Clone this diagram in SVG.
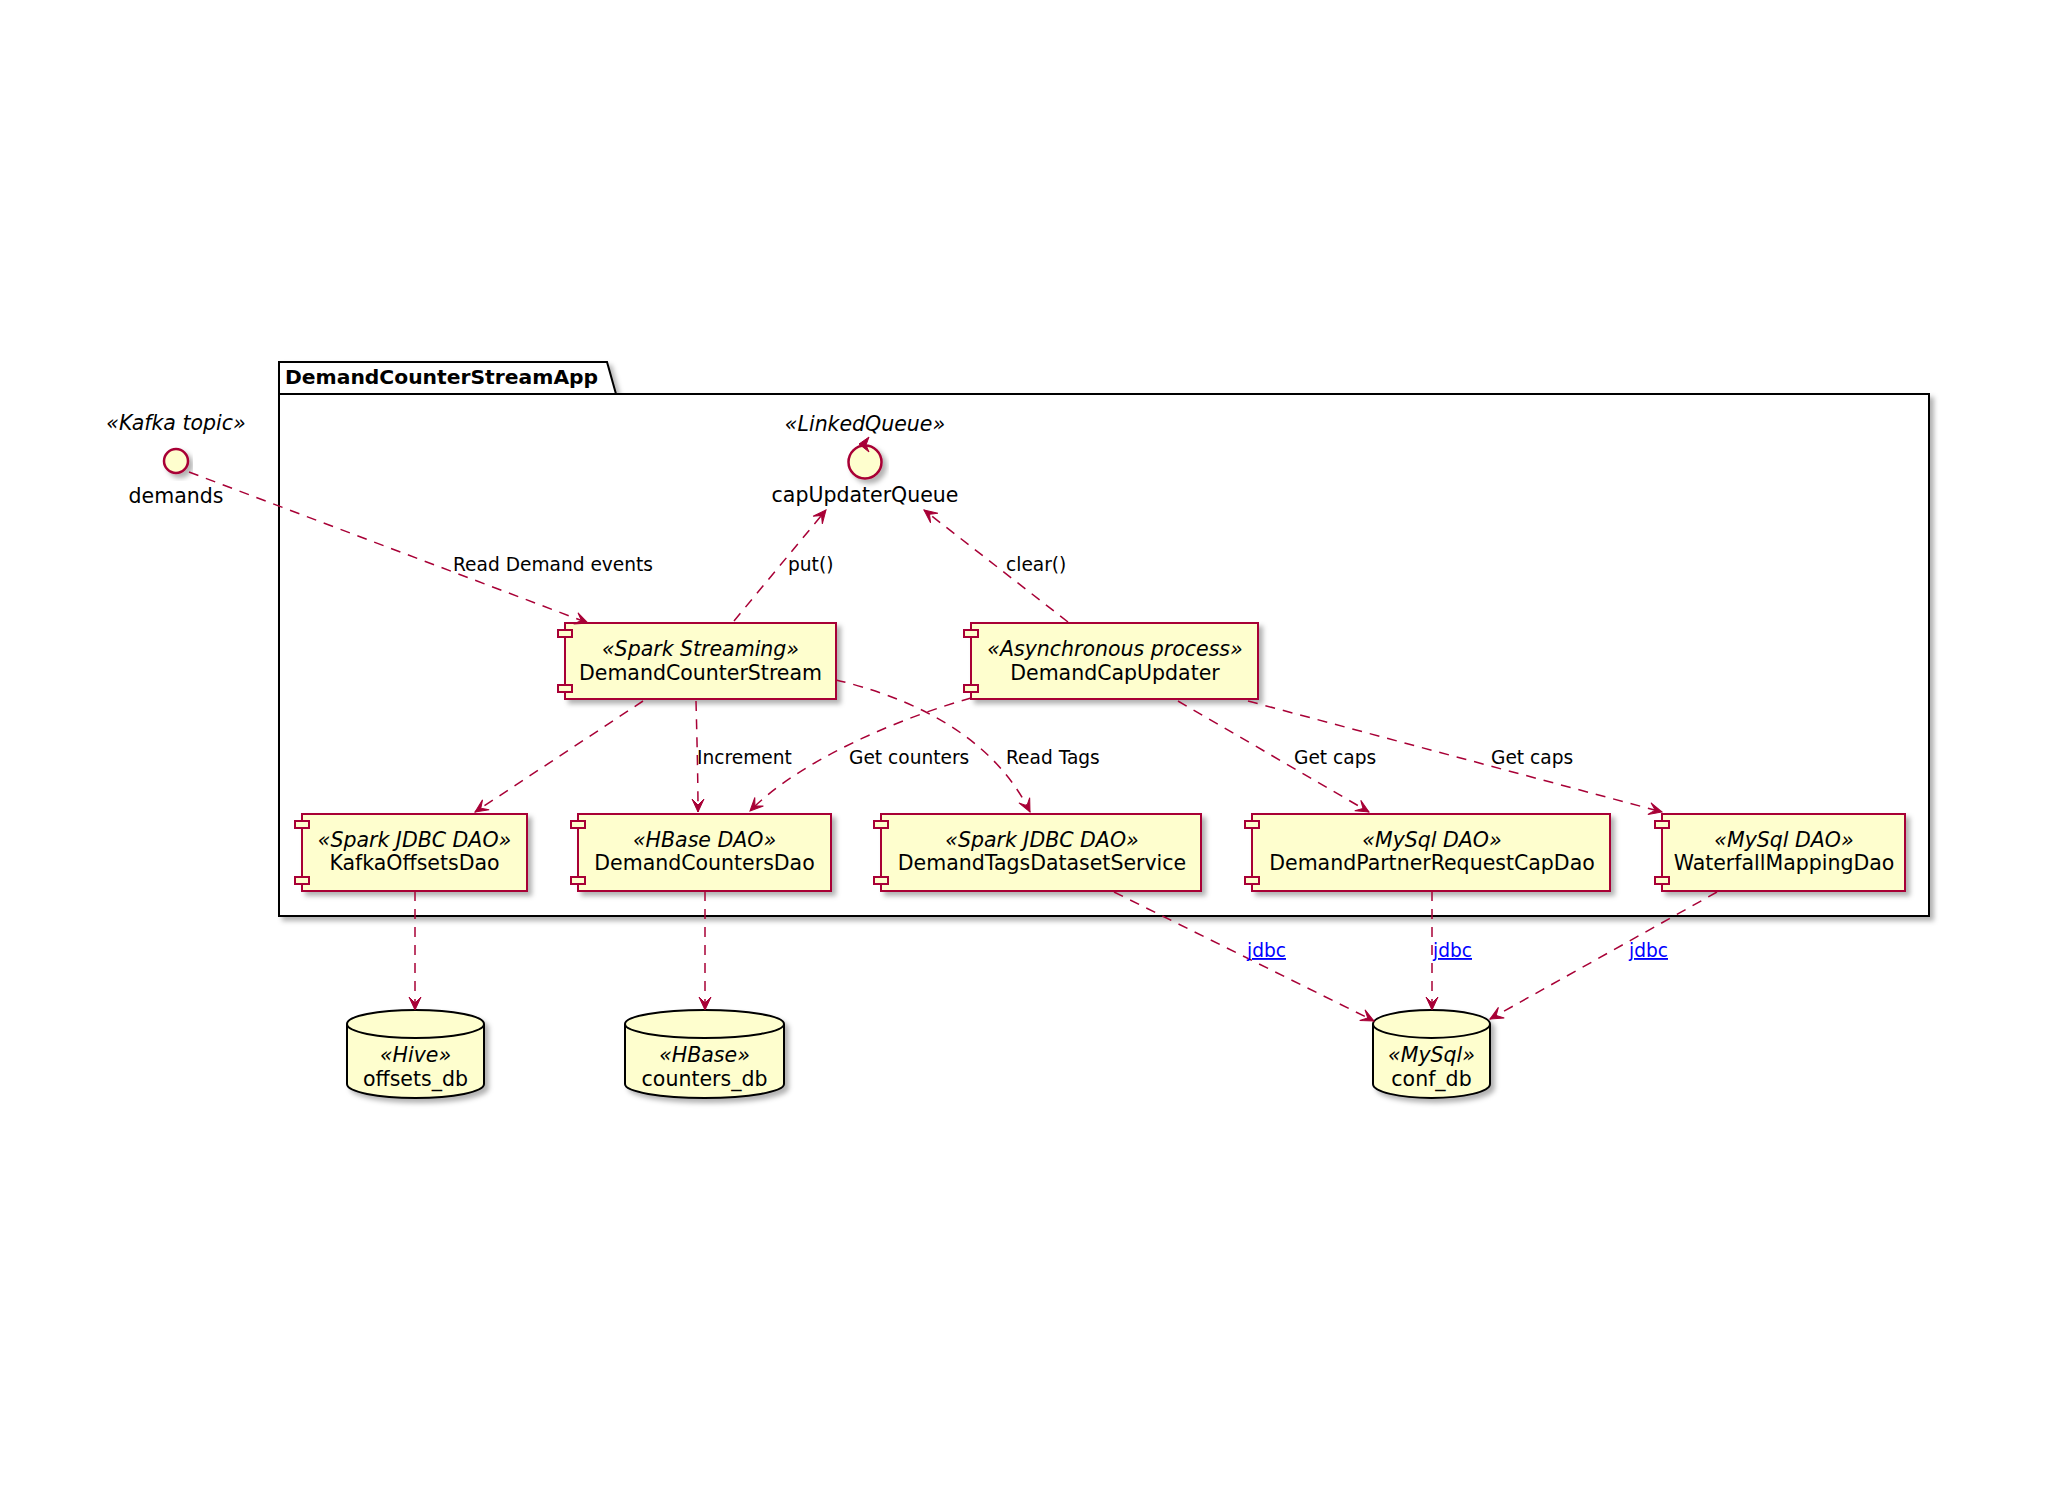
<svg xmlns="http://www.w3.org/2000/svg" width="2048" height="1493" viewBox="0 0 2048 1493">
<defs>
<filter id="sh" x="-10%" y="-10%" width="130%" height="140%">
<feDropShadow dx="4" dy="4" stdDeviation="2.5" flood-color="#000" flood-opacity="0.3"/>
</filter>
<marker id="ah" markerUnits="userSpaceOnUse" viewBox="-15 -8 17 16" markerWidth="17" markerHeight="16" refX="0" refY="0" orient="auto">
<path d="M0,0 L-13,-6 L-7,0 L-13,6 Z" fill="#A80036" stroke="#A80036" stroke-width="1"/>
</marker>
<style>
text{font-family:"DejaVu Sans",Verdana,sans-serif;fill:#000}
.st{font-size:20.5px;font-style:italic;text-anchor:middle}
.nm{font-size:20.5px;text-anchor:middle}
.lb{font-size:18.6px}
.lk{font-size:18.6px;fill:#0000FF;text-decoration:underline}
.ti{font-size:20.3px;font-weight:bold}
.box{fill:#FEFECE;stroke:#A80036;stroke-width:2}
.port{fill:#FEFECE;stroke:#A80036;stroke-width:2}
.db{fill:#FEFECE;stroke:#000;stroke-width:2}
.ed{fill:none;stroke:#A80036;stroke-width:1.5;stroke-dasharray:10,8;marker-end:url(#ah)}
</style>
</defs>
<rect x="0" y="0" width="2048" height="1493" fill="#FFFFFF"/>

<g id="DemandCounterStreamApp">
<path d="M279,362 L607,362 L616,394 L1929,394 L1929,916 L279,916 Z" fill="#FFFFFF" stroke="#000" stroke-width="2" filter="url(#sh)"/>
<path d="M279,394 L616,394" fill="none" stroke="#000" stroke-width="2"/>
<text class="ti" x="285" y="384">DemandCounterStreamApp</text>
</g>

<g id="demands">
<text class="st" x="176" y="430">«Kafka topic»</text>
<circle cx="176" cy="461" r="12" fill="#FEFECE" stroke="#A80036" stroke-width="2.5" filter="url(#sh)"/>
<text class="nm" x="176" y="503">demands</text>
</g>

<g id="capUpdaterQueue">
<text class="st" x="865" y="431">«LinkedQueue»</text>
<circle cx="865" cy="462" r="16.5" fill="#FEFECE" stroke="#A80036" stroke-width="2.5" filter="url(#sh)"/>
<polygon points="859,444 869,437 866,445 869,452" fill="#A80036" stroke="#A80036" stroke-width="1"/>
<text class="nm" x="865" y="502">capUpdaterQueue</text>
</g>

<g id="DemandCounterStream">
<rect class="box" x="565" y="623" width="271" height="76" filter="url(#sh)"/>
<rect class="port" x="558" y="630" width="14" height="7"/>
<rect class="port" x="558" y="685" width="14" height="7"/>
<text class="st" x="700.5" y="656">«Spark Streaming»</text>
<text class="nm" x="700.5" y="680">DemandCounterStream</text>
</g>

<g id="DemandCapUpdater">
<rect class="box" x="971" y="623" width="287" height="76" filter="url(#sh)"/>
<rect class="port" x="964" y="630" width="14" height="7"/>
<rect class="port" x="964" y="685" width="14" height="7"/>
<text class="st" x="1115" y="656">«Asynchronous process»</text>
<text class="nm" x="1115" y="680">DemandCapUpdater</text>
</g>

<g id="KafkaOffsetsDao">
<rect class="box" x="302" y="814" width="225" height="77" filter="url(#sh)"/>
<rect class="port" x="295" y="821" width="14" height="7"/>
<rect class="port" x="295" y="877" width="14" height="7"/>
<text class="st" x="414.5" y="847">«Spark JDBC DAO»</text>
<text class="nm" x="414.5" y="870">KafkaOffsetsDao</text>
</g>

<g id="DemandCountersDao">
<rect class="box" x="578" y="814" width="253" height="77" filter="url(#sh)"/>
<rect class="port" x="571" y="821" width="14" height="7"/>
<rect class="port" x="571" y="877" width="14" height="7"/>
<text class="st" x="704.5" y="847">«HBase DAO»</text>
<text class="nm" x="704.5" y="870">DemandCountersDao</text>
</g>

<g id="DemandTagsDatasetService">
<rect class="box" x="881" y="814" width="320" height="77" filter="url(#sh)"/>
<rect class="port" x="874" y="821" width="14" height="7"/>
<rect class="port" x="874" y="877" width="14" height="7"/>
<text class="st" x="1042" y="847">«Spark JDBC DAO»</text>
<text class="nm" x="1042" y="870">DemandTagsDatasetService</text>
</g>

<g id="DemandPartnerRequestCapDao">
<rect class="box" x="1252" y="814" width="358" height="77" filter="url(#sh)"/>
<rect class="port" x="1245" y="821" width="14" height="7"/>
<rect class="port" x="1245" y="877" width="14" height="7"/>
<text class="st" x="1432" y="847">«MySql DAO»</text>
<text class="nm" x="1432" y="870">DemandPartnerRequestCapDao</text>
</g>

<g id="WaterfallMappingDao">
<rect class="box" x="1662" y="814" width="243" height="77" filter="url(#sh)"/>
<rect class="port" x="1655" y="821" width="14" height="7"/>
<rect class="port" x="1655" y="877" width="14" height="7"/>
<text class="st" x="1784" y="847">«MySql DAO»</text>
<text class="nm" x="1784" y="870">WaterfallMappingDao</text>
</g>

<g id="offsets_db">
<path class="db" d="M347,1024 A68.5,14 0 0 1 484,1024 L484,1084 A68.5,14 0 0 1 347,1084 Z" filter="url(#sh)"/>
<path d="M347,1024 A68.5,14 0 0 0 484,1024" fill="none" stroke="#000" stroke-width="2"/>
<text class="st" x="415.5" y="1062">«Hive»</text>
<text class="nm" x="415.5" y="1086">offsets_db</text>
</g>

<g id="counters_db">
<path class="db" d="M625,1024 A79.5,14 0 0 1 784,1024 L784,1084 A79.5,14 0 0 1 625,1084 Z" filter="url(#sh)"/>
<path d="M625,1024 A79.5,14 0 0 0 784,1024" fill="none" stroke="#000" stroke-width="2"/>
<text class="st" x="704.5" y="1062">«HBase»</text>
<text class="nm" x="704.5" y="1086">counters_db</text>
</g>

<g id="conf_db">
<path class="db" d="M1373,1024 A58.5,14 0 0 1 1490,1024 L1490,1084 A58.5,14 0 0 1 1373,1084 Z" filter="url(#sh)"/>
<path d="M1373,1024 A58.5,14 0 0 0 1490,1024" fill="none" stroke="#000" stroke-width="2"/>
<text class="st" x="1431.5" y="1062">«MySql»</text>
<text class="nm" x="1431.5" y="1086">conf_db</text>
</g>

<g id="connectors">
<path class="ed" d="M189,472 L588,623"/>
<text class="lb" x="453" y="571">Read Demand events</text>
<path class="ed" d="M734,621 L826,510"/>
<text class="lb" x="788" y="571">put()</text>
<path class="ed" d="M1068,622 L924,510"/>
<text class="lb" x="1006" y="571">clear()</text>
<path class="ed" d="M643,701 L475,812"/>
<path class="ed" d="M696,701 C697,740 698,780 698,812"/>
<text class="lb" x="697" y="764">Increment</text>
<path class="ed" d="M971,698 C900,718 800,760 750,811"/>
<text class="lb" x="849" y="764">Get counters</text>
<path class="ed" d="M836,680 C900,695 990,730 1030,812"/>
<text class="lb" x="1006" y="764">Read Tags</text>
<path class="ed" d="M1178,701 L1369,812"/>
<text class="lb" x="1294" y="764">Get caps</text>
<path class="ed" d="M1248,701 L1662,812"/>
<text class="lb" x="1491" y="764">Get caps</text>
<path class="ed" d="M1114,892 L1374,1021"/>
<text class="lk" x="1247" y="957">jdbc</text>
<path class="ed" d="M1432,891 L1432,1010"/>
<text class="lk" x="1433" y="957">jdbc</text>
<path class="ed" d="M1717,892 L1490,1019"/>
<text class="lk" x="1629" y="957">jdbc</text>
<path class="ed" d="M415,891 L415,1010"/>
<path class="ed" d="M705,891 L705,1010"/>
</g>
</svg>
